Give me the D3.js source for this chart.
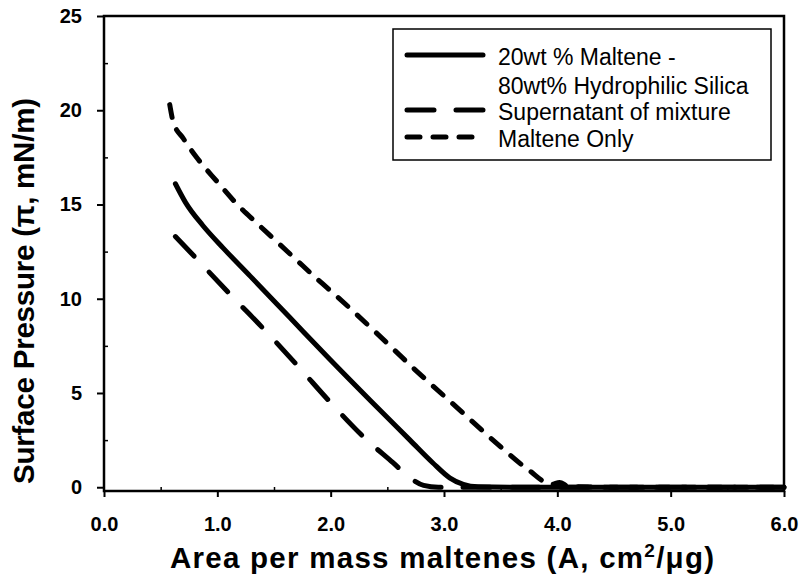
<!DOCTYPE html>
<html>
<head>
<meta charset="utf-8">
<script src="https://cdn.jsdelivr.net/npm/d3@7"></script>
<style>
  html, body { margin: 0; padding: 0; background: #fff; }
  svg { display: block; font-family: "Liberation Sans", Arial, Helvetica, sans-serif; }
</style>
</head>
<body>
<svg id="chart" width="801" height="584"></svg>
<script>
// Surface pressure isotherms: [area per mass (cm²/µg), surface pressure (mN/m)]
const mixtureCurve = [
  [0.63, 16.1], [0.72, 15.1], [0.87, 13.9], [1.05, 12.7], [1.29, 11.2],
  [1.64, 9.0], [1.99, 6.8], [2.35, 4.6], [2.70, 2.5], [2.90, 1.3],
  [3.05, 0.5], [3.17, 0.15], [3.30, 0.02], [3.60, 0.0], [4.00, 0.0],
  [4.50, 0.0], [5.00, 0.0], [5.50, 0.0], [6.00, 0.0]
];
const supernatantCurve = [
  [0.63, 13.3], [0.82, 12.1], [1.11, 10.25], [1.44, 8.2], [1.73, 6.3],
  [1.99, 4.55], [2.32, 2.5], [2.55, 1.3], [2.70, 0.5], [2.82, 0.1],
  [2.95, 0.0], [3.20, 0.0], [3.60, 0.0], [4.00, 0.0], [5.00, 0.0], [6.00, 0.0]
];
const malteneCurve = [
  [0.58, 20.3], [0.61, 19.4], [0.70, 18.5], [0.83, 17.4], [1.00, 16.2],
  [1.16, 15.1], [1.35, 14.0], [1.53, 13.0], [1.70, 12.05], [1.88, 11.05],
  [2.06, 10.1], [2.41, 8.15], [2.76, 6.15], [3.12, 4.2], [3.47, 2.3],
  [3.75, 0.9], [3.95, 0.15], [4.02, 0.25], [4.10, 0.05], [4.50, 0.0],
  [5.00, 0.0], [5.50, 0.0], [6.00, 0.0]
];

const seriesNames = ["20wt % Maltene -|80wt% Hydrophilic Silica", "Supernatant of mixture", "Maltene Only"];
const xTicks = [0, 1, 2, 3, 4, 5, 6];
const xTickLabels = ["0.0", "1.0", "2.0", "3.0", "4.0", "5.0", "6.0"];
const yTicks = [0, 5, 10, 15, 20, 25];
const xMinorTicks = [0.5, 1.5, 2.5, 3.5, 4.5, 5.5];
const yMinorTicks = [2.5, 7.5, 12.5, 17.5, 22.5];

const svg = d3.select("#chart");
const plotLeft = 104, plotRight = 784, plotTop = 16, plotBottom = 491;

const x = d3.scaleLinear().domain([0, 6]).range([plotLeft, plotRight]);
const y = d3.scaleLinear().domain([-0.2, 25]).range([plotBottom, plotTop]);

const styles = [
  { dash: null },
  { dash: "27,22" },
  { dash: "13,13" }
];
const series = [mixtureCurve, supernatantCurve, malteneCurve];

const line = d3.line()
  .x(d => x(d[0]))
  .y(d => y(d[1]))
  .curve(d3.curveMonotoneX);

// data curves
const plot = svg.append("g");
series.forEach((data, i) => {
  plot.append("path")
    .datum(data)
    .attr("d", line)
    .attr("fill", "none")
    .attr("stroke", "#000")
    .attr("stroke-width", 5)
    .attr("stroke-linecap", "round")
    .attr("stroke-linejoin", "round")
    .attr("stroke-dasharray", styles[i].dash);
});

// frame
svg.append("rect")
  .attr("x", plotLeft).attr("y", plotTop)
  .attr("width", plotRight - plotLeft).attr("height", plotBottom - plotTop)
  .attr("fill", "none").attr("stroke", "#000").attr("stroke-width", 2.5);

// x axis
const xAxis = d3.axisBottom(x).tickValues(xTicks)
  .tickFormat((d, i) => xTickLabels[i]).tickSize(6).tickPadding(20);
const gx = svg.append("g").attr("transform", `translate(0,${plotBottom})`).call(xAxis);
gx.select(".domain").remove();
gx.selectAll("line").attr("stroke-width", 2);
gx.selectAll("text").attr("font-size", 20).attr("font-weight", "bold")
  .attr("font-family", "Liberation Sans, Arial, sans-serif");

const gxm = svg.append("g").attr("transform", `translate(0,${plotBottom})`)
  .call(d3.axisTop(x).tickValues(xMinorTicks).tickSize(4).tickFormat(""));
gxm.select(".domain").remove();
gxm.selectAll("line").attr("stroke-width", 1.5);

// y axis
const yAxis = d3.axisLeft(y).tickValues(yTicks).tickSize(7).tickPadding(15);
const gy = svg.append("g").attr("transform", `translate(${plotLeft},0)`).call(yAxis);
gy.select(".domain").remove();
gy.selectAll("line").attr("stroke-width", 2);
gy.selectAll("text").attr("font-size", 20).attr("font-weight", "bold")
  .attr("font-family", "Liberation Sans, Arial, sans-serif");

const gym = svg.append("g").attr("transform", `translate(${plotLeft},0)`)
  .call(d3.axisRight(y).tickValues(yMinorTicks).tickSize(4).tickFormat(""));
gym.select(".domain").remove();
gym.selectAll("line").attr("stroke-width", 1.5);

// axis titles
const xTitle = svg.append("text")
  .attr("x", 442).attr("y", 568)
  .attr("text-anchor", "middle").attr("font-size", 29.5).attr("font-weight", "bold")
  .attr("textLength", 544).attr("lengthAdjust", "spacing");
xTitle.append("tspan").text("Area per mass maltenes (A, cm");
xTitle.append("tspan").attr("font-size", 19).attr("dy", -11).text("2");
xTitle.append("tspan").attr("dy", 11).text("/\u03BCg)");

svg.append("text")
  .attr("transform", `translate(34,291) rotate(-90)`)
  .attr("text-anchor", "middle").attr("font-size", 29.5).attr("font-weight", "bold")
  .attr("textLength", 386).attr("lengthAdjust", "spacing")
  .text("Surface Pressure (\u03C0, mN/m)");

// legend
const lg = svg.append("g");
lg.append("rect").attr("x", 393).attr("y", 29).attr("width", 378).attr("height", 131)
  .attr("fill", "#fff").attr("stroke", "#000").attr("stroke-width", 1.5);
const rowBase = [65, 120, 147];
seriesNames.forEach((name, i) => {
  lg.append("line")
    .attr("x1", 407).attr("x2", 483)
    .attr("y1", rowBase[i] - 10).attr("y2", rowBase[i] - 10)
    .attr("stroke", "#000").attr("stroke-width", 5)
    .attr("stroke-linecap", "round")
    .attr("stroke-dasharray", styles[i].dash);
  name.split("|").forEach((part, j) => {
    lg.append("text")
      .attr("x", 498).attr("y", rowBase[i] + j * 29)
      .attr("font-size", 23)
      .text(part);
  });
});
</script>
</body>
</html>
